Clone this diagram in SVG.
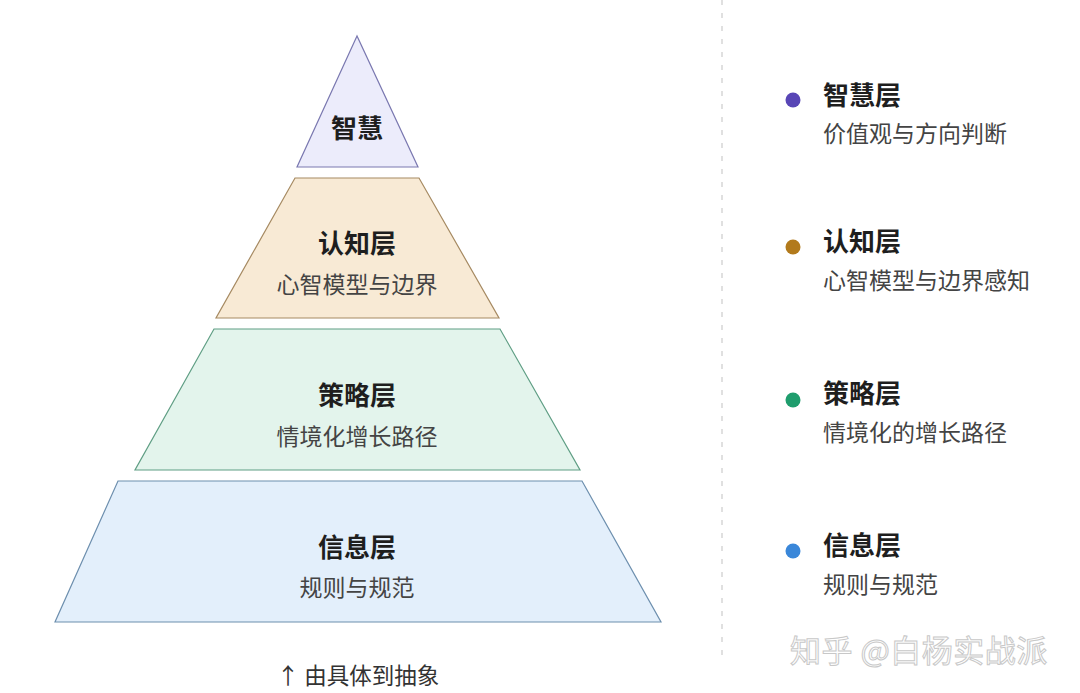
<svg xmlns="http://www.w3.org/2000/svg" width="1080" height="693" viewBox="0 0 1080 693">
<style>
text{font-family:"Noto Sans CJK SC","Noto Sans",sans-serif;}
.t{font-size:26px;font-weight:700;fill:#1e1e1e;text-anchor:middle;}
.s{font-size:23px;fill:#444;text-anchor:middle;}
.lt{font-size:26px;font-weight:700;fill:#1e1e1e;}
.ls{font-size:23px;fill:#444;}
</style>
<rect width="1080" height="693" fill="#ffffff"/>
<g id="connectors">
<line x1="722" y1="0" x2="722" y2="662" stroke="#d6d6d6" stroke-width="1.5" stroke-dasharray="5,8"/>
</g>
<g id="wisdom">
<polygon points="357,36 297,167 418,167" fill="#ececfb" stroke="#7a78b0" stroke-width="1.2"/>
<text class="t" x="357" y="138">智慧</text>
</g>
<g id="cognition">
<polygon points="295,178 419,178 499,318 216,318" fill="#f8ead5" stroke="#a68a62" stroke-width="1.2"/>
<text class="t" x="357" y="253">认知层</text>
<text class="s" x="357" y="293">心智模型与边界</text>
</g>
<g id="strategy">
<polygon points="214,329 500,329 580,470 135,470" fill="#e3f4ec" stroke="#5f9e84" stroke-width="1.2"/>
<text class="t" x="357" y="405">策略层</text>
<text class="s" x="357" y="445">情境化增长路径</text>
</g>
<g id="information">
<polygon points="118,481 582,481 661,622 55,622" fill="#e3effb" stroke="#6d8fae" stroke-width="1.2"/>
<text class="t" x="357" y="557">信息层</text>
<text class="s" x="357" y="596">规则与规范</text>
</g>
<g id="axis-label">
<text class="s" x="358" y="684" style="font-size:22.5px;fill:#333">↑ 由具体到抽象</text>
</g>
<g id="legend-wisdom">
<circle cx="793" cy="100" r="7.5" fill="#5846b6"/>
<text class="lt" x="823" y="105">智慧层</text>
<text class="ls" x="823" y="142">价值观与方向判断</text>
</g>
<g id="legend-cognition">
<circle cx="793" cy="247" r="7.5" fill="#b27a1c"/>
<text class="lt" x="823" y="251">认知层</text>
<text class="ls" x="823" y="289">心智模型与边界感知</text>
</g>
<g id="legend-strategy">
<circle cx="793" cy="400" r="7.5" fill="#1f9d6d"/>
<text class="lt" x="823" y="403">策略层</text>
<text class="ls" x="823" y="441">情境化的增长路径</text>
</g>
<g id="legend-information">
<circle cx="793" cy="551" r="7.5" fill="#3a87d9"/>
<text class="lt" x="823" y="555">信息层</text>
<text class="ls" x="823" y="593">规则与规范</text>
</g>
<g id="watermark">
<text x="790" y="662" style="font-size:31px;letter-spacing:0.5px;fill:#ffffff;stroke:#c8c8c8;stroke-width:1">知乎 @白杨实战派</text>
</g>
</svg>
